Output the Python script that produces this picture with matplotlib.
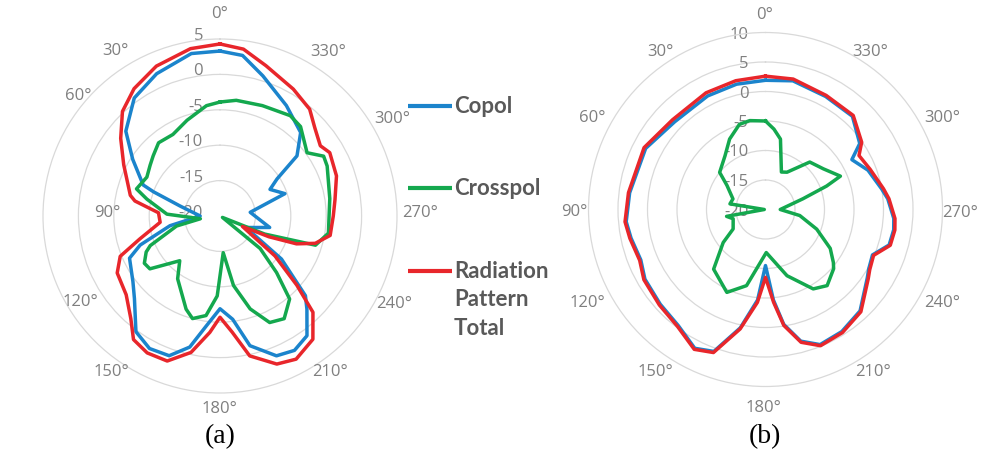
import numpy as np
import matplotlib.pyplot as plt
from matplotlib import transforms
from matplotlib.lines import Line2D

W, H = 984, 452

# ---- panel (a): angle in degrees (0 at top, counter-clockwise), level in dB
a_copol_deg = [0, 10, 24, 36, 48, 57, 68, 70, 76, 90, 101, 110, 115, 127, 134,
               144, 152, 160, 167, 173, 180, 187, 193, 202, 209, 216, 223, 227,
               235, 246, 257, 277, 289, 298, 303, 308, 316, 329, 343, 352]
a_copol_db = [3.3, 3.3, 2.0, 0.6, -2.1, -5.3, -8.3, -10.0, -14.2, -17.2, -12.8,
              -8.0, -5.9, -4.6, -3.2, 0.2, 1.2, 1.0, -1.0, -4.4, -6.9, -5.3,
              -1.2, 1.3, 1.7, 0.9, -2.0, -3.5, -9.4, -16.0, -12.8, -15.7, -10.3,
              -12.0, -10.4, -6.2, -3.6, -1.8, 0.7, 2.9]

a_cross_deg = [0, 7, 19, 30, 40, 48, 54, 62, 72, 77, 88, 98, 103, 113, 116, 122,
               127, 138, 146, 160, 165, 172, 178, 185, 191, 198, 205, 212, 220,
               225, 231, 240, 248, 253, 261, 279, 295, 300, 306, 318, 325, 339, 352]
a_cross_db = [-3.9, -4.3, -5.7, -6.7, -6.5, -7.3, -7.8, -8.3, -7.6, -9.4, -12.5,
              -17.2, -13.7, -9.3, -8.4, -7.4, -7.6, -11.5, -9.3, -6.0, -5.0, -5.8,
              -8.7, -14.8, -10.0, -6.2, -3.4, -2.9, -4.7, -8.7, -12.7, -19.6,
              -13.2, -5.9, -4.5, -4.3, -3.3, -3.1, -4.8, -3.0, -2.7, -3.3, -3.5]

a_total_deg = [0, 10, 23, 34, 43, 52, 62, 77, 80, 87, 96, 106, 112, 119, 130, 139,
               145, 152, 160, 168, 175, 180, 186, 192, 201, 208, 217, 224, 228,
               234, 245, 247, 250, 254, 260, 270, 278, 289, 300, 305, 313, 320,
               330, 343, 352]
a_total_db = [4.3, 4.0, 3.0, 1.7, 0.2, -2.2, -4.6, -7.0, -7.8, -11.3, -11.5, -8.2,
              -4.8, -3.4, -2.7, -0.8, 1.3, 1.9, 1.8, -0.3, -3.5, -5.7, -3.5, 0.2,
              2.4, 2.9, 1.8, -1.1, -5.4, -10.4, -16.5, -12.5, -8.5, -6.0, -4.2,
              -4.0, -3.6, -2.6, -2.1, -2.7, -1.7, -0.3, 0.7, 2.2, 3.8]

# ---- panel (b)
b_copol_deg = [0, 13, 27, 46, 63, 83, 95, 102, 112, 120, 132, 143, 153, 160, 168,
               175, 180, 185, 189, 195, 202, 212, 223, 236, 240, 247, 254, 261,
               266, 275, 280, 291, 300, 305, 317, 332, 348]
b_copol_db = [1.9, 1.8, 1.6, 1.4, 2.8, 3.2, 3.7, 3.3, 2.8, 3.6, 4.0, 4.6, 6.4,
              5.6, 0.5, -4.6, -10.5, -4.6, -0.3, 3.1, 4.7, 4.4, 3.5, 0.8, 0.2,
              -0.3, 1.8, 2.0, 1.8, 0.8, 0.0, -1.4, -3.1, -0.5, 1.6, 1.7, 2.3]

b_cross_deg = [0, 10, 17, 27, 37, 51, 58, 72, 81, 90, 100, 106, 121, 128, 139, 155,
               166, 181, 198, 211, 219, 229, 232, 239, 249, 260, 270, 286, 291,
               294, 305, 317, 330, 337, 348, 354]
b_cross_db = [-5.0, -4.7, -4.9, -6.6, -8.6, -10.0, -12.3, -14.2, -13.9, -19.8,
              -13.3, -14.3, -13.6, -10.9, -6.6, -4.5, -6.7, -12.7, -8.2, -4.3,
              -3.4, -4.7, -5.4, -7.2, -10.7, -14.1, -17.5, -13.4, -8.9, -6.1,
              -8.0, -9.0, -12.7, -13.1, -7.8, -6.3]

b_total_deg = b_copol_deg
b_total_db = [2.6, 2.4, 2.2, 1.9, 3.1, 3.4, 3.9, 3.5, 3.0, 3.8, 4.2, 4.8, 6.6,
              5.8, 0.7, -4.2, -8.5, -4.2, -0.1, 3.3, 4.9, 4.6, 3.7, 1.0, 0.4,
              -0.1, 2.0, 2.2, 2.0, 1.0, 0.3, -1.0, -1.7, -0.1, 1.8, 1.9, 2.6]

series_names = ['Copol', 'Crosspol', 'Radiation\nPattern\nTotal']
colors = ['#1b84cc', '#14a84e', '#e8262b']

grid_col = '#d9d9d9'
text_col = '#7f7f7f'
angle_labels = ['%d\u00b0' % a for a in range(0, 360, 30)]

fig = plt.figure(figsize=(W / 100, H / 100), dpi=100)


def panel(cx, cy, rmax, label_dy):
    rad = 177
    ax = fig.add_axes([(cx - rad) / W, (H - cy - rad) / H, 2 * rad / W, 2 * rad / H],
                      projection='polar')
    ax.set_theta_zero_location('N')
    ax.set_theta_direction(1)
    ax.set_ylim(-20, rmax)
    ax.set_xticks([])
    ax.set_yticks(np.arange(-15, rmax, 5))
    ax.set_yticklabels([])
    ax.yaxis.grid(True, color=grid_col, lw=0.9)
    ax.spines['polar'].set_color(grid_col)
    ax.spines['polar'].set_linewidth(0.9)
    ax.set_axisbelow(True)
    ax.patch.set_alpha(0)
    off = transforms.offset_copy(ax.transData, fig=fig, x=-17, y=label_dy, units='dots')
    for v in range(-20, rmax + 1, 5):
        ax.text(0, v, str(v), transform=off, ha='right', va='center',
                color=text_col, fontsize=12, family='Open Sans', zorder=1)
    return ax


def draw(ax, curves):
    for (deg, db), c in zip(curves, colors):
        th = np.radians(np.r_[deg, deg[0]])
        ax.plot(th, np.r_[db, db[0]], color=c, lw=2.5, zorder=3,
                solid_joinstyle='round')


ax_a = panel(220, 217, 5, 4)
draw(ax_a, [(a_copol_deg, a_copol_db), (a_cross_deg, a_cross_db),
            (a_total_deg, a_total_db)])
ax_b = panel(765.5, 210.5, 10, -1)
draw(ax_b, [(b_copol_deg, b_copol_db), (b_cross_deg, b_cross_db),
            (b_total_deg, b_total_db)])

# angle labels (pixel positions as measured in the figure)
a_label_pos = [(220, 14), (115, 51), (78, 96), (107, 213), (80, 302), (111, 372),
               (219, 409), (330, 372), (394, 304), (420, 213), (392, 119), (328, 52)]
b_label_pos = [(765, 15), (660, 52), (592, 118), (574, 212), (587, 303), (655, 372),
               (763, 408), (873, 372), (942, 303), (960, 213), (942, 118), (870, 52)]
for pos_list in (a_label_pos, b_label_pos):
    for lab, (x, y) in zip(angle_labels, pos_list):
        fig.text(x / W, 1 - y / H, lab, ha='center', va='center', color=text_col,
                 fontsize=12, family='Open Sans')

# legend
leg_y = [106.5, 188.5, 271.5]
for name, c, y in zip(series_names, colors, leg_y):
    fig.add_artist(Line2D([408 / W, 452 / W], [1 - y / H] * 2, color=c, lw=3,
                          solid_capstyle='butt'))
    for i, part in enumerate(name.split('\n')):
        fig.text(454 / W, 1 - (y + 28.5 * i) / H, part, ha='left', va='center',
                 color='#595959', fontsize=16, fontweight='bold', family='Lato')

fig.text(220 / W, 1 - 437 / H, '(a)', ha='center', va='center', fontsize=20,
         family='Liberation Serif')
fig.text(765 / W, 1 - 437 / H, '(b)', ha='center', va='center', fontsize=20,
         family='Liberation Serif')

fig.savefig('out.png', dpi=100)
